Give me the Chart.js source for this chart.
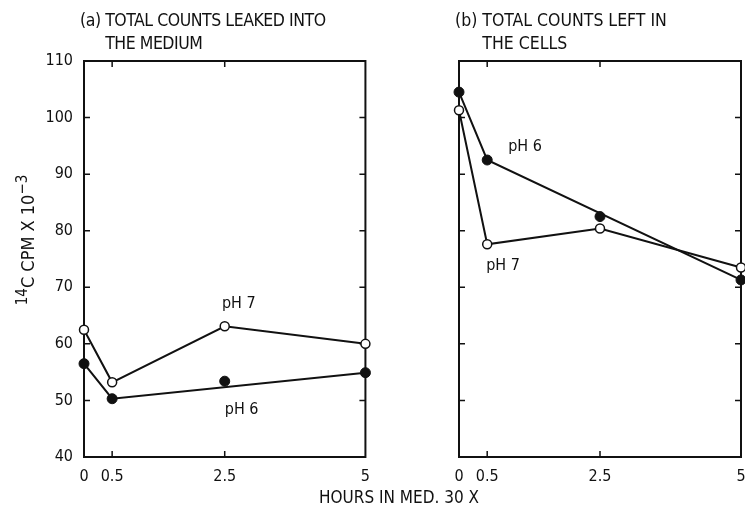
<!DOCTYPE html>
<html>
<head>
<meta charset="utf-8">
<script src="https://cdn.jsdelivr.net/npm/chart.js@4"></script>
<style>
  html, body { margin: 0; padding: 0; background: #fff; overflow: hidden; }
  #wrap {
    position: relative; width: 745px; height: 525px; overflow: hidden;
    font-family: "Liberation Sans Narrow", "DejaVu Sans Condensed", sans-serif; color: #111;
  }
  canvas { position: absolute; top: 0; }
  #mediumChart { left: 0; }
  #cellsChart { left: 380px; }
  .panelTitle { position: absolute; top: 9px; font-size: 17.5px; line-height: 23px; white-space: nowrap; }
  .panelTitle span { display: block; }
  .panelTitle i { font-style: normal; visibility: hidden; }
  #yTitle {
    position: absolute; left: -72px; top: 228px; width: 200px; text-align: center;
    font-size: 18px; line-height: 24px; transform: rotate(-90deg); white-space: nowrap;
  }
  #yTitle sup { font-size: 15px; vertical-align: 7px; line-height: 0; }
  #xTitle { position: absolute; left: 299px; top: 487px; width: 200px; text-align: center; font-size: 17px; white-space: nowrap; }
</style>
</head>
<body>
<div id="wrap">
  <canvas id="mediumChart" width="380" height="525"></canvas>
  <canvas id="cellsChart" width="400" height="525"></canvas>
  <div class="panelTitle" style="left:80px;letter-spacing:-0.45px"><span>(a) TOTAL COUNTS LEAKED INTO</span><span><i>(a) </i>THE MEDIUM</span></div>
  <div class="panelTitle" style="left:455px"><span>(b) TOTAL COUNTS LEFT IN</span><span><i>(b) </i>THE CELLS</span></div>
  <div id="yTitle"><sup>14</sup>C CPM X 10<sup>&minus;3</sup></div>
  <div id="xTitle">HOURS IN MED. 30 X</div>
</div>
<script>
// datos
const hours = [0, 0.5, 2.5, 5];
const fitHours = [0, 0.5, 5];

const mediumPH7 = [62.5, 53.2, 63.1, 60.0];
const mediumPH6 = [56.5, 50.3, 53.4, 54.9];
const mediumPH6Fit = [56.5, 50.3, 54.9];

const cellsPH7 = [101.3, 77.6, 80.4, 73.5];
const cellsPH6 = [104.5, 92.5, 82.5, 71.3];
const cellsPH6Fit = [104.5, 92.5, 71.3];

const xTicks = [0, 0.5, 2.5, 5];
const xTickLabels = ["0", "0.5", "2.5", "5"];
const yTicks = [40, 50, 60, 70, 80, 90, 100, 110];

const mediumNotes = [{ text: "pH 7", x: 2.75, y: 67.1 }, { text: "pH 6", x: 2.8, y: 48.4 }];
const cellsNotes = [{ text: "pH 6", x: 1.17, y: 94.8 }, { text: "pH 7", x: 0.78, y: 73.8 }];

const INK = "#111";
const FONT = '"Liberation Sans Narrow", "DejaVu Sans Condensed", sans-serif';

Chart.defaults.font.family = FONT;
Chart.defaults.color = INK;

function puntos(xs, ys) {
  return xs.map((x, i) => ({ x, y: ys[i] }));
}

const marcoPlugin = {
  id: "marco",
  beforeDatasetsDraw(chart) {
    const { ctx, chartArea: a, scales } = chart;
    ctx.save();
    ctx.strokeStyle = INK;
    ctx.lineWidth = 2;
    ctx.strokeRect(a.left, a.top, a.right - a.left, a.bottom - a.top);
    ctx.lineWidth = 1.5;
    ctx.beginPath();
    yTicks.slice(1, -1).forEach(v => {
      const y = scales.y.getPixelForValue(v);
      ctx.moveTo(a.left, y); ctx.lineTo(a.left + 6, y);
      ctx.moveTo(a.right, y); ctx.lineTo(a.right - 6, y);
    });
    xTicks.slice(1, -1).forEach(v => {
      const x = scales.x.getPixelForValue(v);
      ctx.moveTo(x, a.bottom); ctx.lineTo(x, a.bottom - 6);
      ctx.moveTo(x, a.top); ctx.lineTo(x, a.top + 6);
    });
    ctx.stroke();
    ctx.restore();
  },
  afterDraw(chart) {
    const { ctx, scales } = chart;
    const notes = chart.options.plugins.marco.notes || [];
    ctx.save();
    ctx.fillStyle = INK;
    ctx.font = "16px " + FONT;
    ctx.textAlign = "center";
    ctx.textBaseline = "middle";
    notes.forEach(n => {
      ctx.fillText(n.text, scales.x.getPixelForValue(n.x), scales.y.getPixelForValue(n.y));
    });
    ctx.restore();
  }
};

function crearPanel(canvasId, ph7, ph6, ph6Fit, notes, conf) {
  const canvas = document.getElementById(canvasId);
  return new Chart(canvas, {
    type: "scatter",
    data: {
      datasets: [
        {
          label: "pH 7",
          data: puntos(hours, ph7),
          showLine: true,
          borderColor: INK,
          borderWidth: 2,
          pointRadius: 4.5,
          pointBorderWidth: 1.5,
          pointBackgroundColor: "#fff",
          pointBorderColor: INK,
          clip: false,
          order: 1
        },
        {
          label: "pH 6 (linea)",
          data: puntos(fitHours, ph6Fit),
          showLine: true,
          borderColor: INK,
          borderWidth: 2,
          pointRadius: 0,
          clip: false,
          order: 3
        },
        {
          label: "pH 6",
          data: puntos(hours, ph6),
          showLine: false,
          pointRadius: 5,
          pointBorderWidth: 1,
          pointBackgroundColor: INK,
          pointBorderColor: INK,
          clip: false,
          order: 2
        }
      ]
    },
    options: {
      responsive: false,
      animation: false,
      layout: { padding: { top: 61, left: 0, right: conf.padRight, bottom: 38 } },
      plugins: {
        legend: { display: false },
        tooltip: { enabled: false },
        marco: { notes }
      },
      scales: {
        x: {
          type: "linear",
          min: 0,
          max: 5,
          grid: { display: false, drawTicks: false },
          border: { display: false },
          afterBuildTicks: s => { s.ticks = xTicks.map(v => ({ value: v })); },
          afterFit: s => { s.height = 30; },
          ticks: {
            padding: 10,
            maxRotation: 0,
            autoSkip: false,
            font: { size: 16 },
            color: INK,
            callback: (value, i) => xTickLabels[i]
          }
        },
        y: {
          min: 40,
          max: 110,
          grid: { display: false, drawTicks: false },
          border: { display: false },
          afterBuildTicks: s => { s.ticks = yTicks.map(v => ({ value: v })); },
          afterFit: s => { s.width = conf.yWidth; },
          ticks: {
            display: conf.yLabels,
            padding: 11,
            font: { size: 16 },
            color: INK,
            callback: value => String(value)
          }
        }
      }
    },
    plugins: [marcoPlugin]
  });
}

crearPanel("mediumChart", mediumPH7, mediumPH6, mediumPH6Fit, mediumNotes, { yWidth: 84, padRight: 12, yLabels: true });
crearPanel("cellsChart", cellsPH7, cellsPH6, cellsPH6Fit, cellsNotes, { yWidth: 79, padRight: 39, yLabels: false });
</script>
</body>
</html>
